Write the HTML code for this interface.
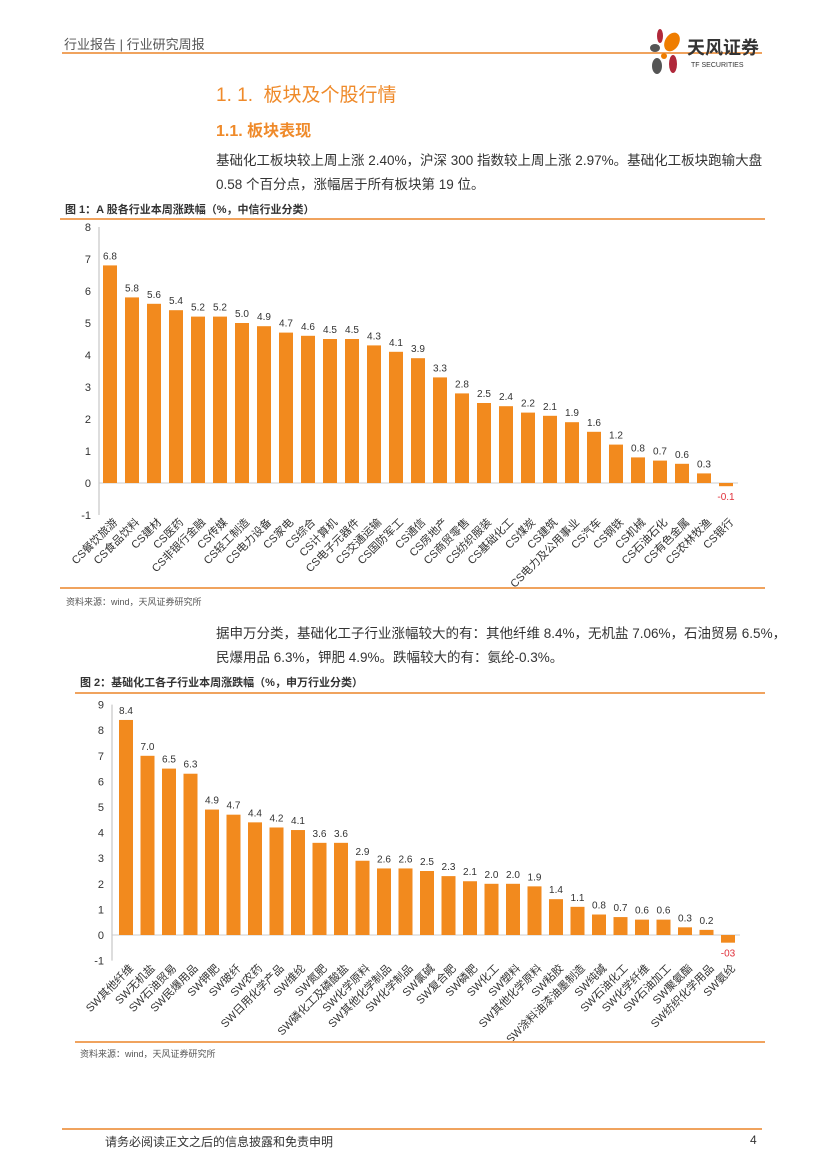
<!DOCTYPE html>
<html><head><meta charset="utf-8"><style>
body{margin:0;width:827px;height:1169px;background:#fff;position:relative;font-family:"Liberation Sans","Noto Sans CJK SC",sans-serif;overflow:hidden}
.a{position:absolute;white-space:nowrap}
.hl{position:absolute;height:2px;background:#f0a35e}
</style></head><body>
<div class="a" style="left:64px;top:34px;font-size:13px;color:#555">行业报告 | 行业研究周报</div>
<div class="hl" style="left:62px;top:52px;width:700px"></div>
<svg class="a" style="left:645px;top:26px" width="130" height="50">
<ellipse cx="15" cy="10" rx="3" ry="7" fill="#b0283a"/><ellipse cx="27" cy="16" rx="7" ry="10" fill="#ef7d00" transform="rotate(30 27 16)"/><ellipse cx="10" cy="22" rx="5" ry="4" fill="#555"/><ellipse cx="12" cy="40" rx="5" ry="8" fill="#555"/><ellipse cx="28" cy="38" rx="4" ry="9" fill="#b0283a"/><circle cx="19" cy="30" r="3" fill="#ef7d00"/>
<text x="42" y="28" font-size="18" font-weight="bold" fill="#333" font-family="Noto Sans CJK SC">天风证券</text>
<text x="46" y="41" font-size="7" fill="#333">TF SECURITIES</text></svg>
<div class="a" style="left:216px;top:80px;font-size:19px;color:#ef8a2a">1. 1.&nbsp; 板块及个股行情</div>
<div class="a" style="left:216px;top:117px;font-size:16px;color:#ef8a2a;font-weight:bold">1.1. 板块表现</div>
<div class="a" style="left:216px;top:149px;font-size:13.5px;color:#333;line-height:24px">基础化工板块较上周上涨 2.40%，沪深 300 指数较上周上涨 2.97%。基础化工板块跑输大盘<br>0.58 个百分点，涨幅居于所有板块第 19 位。</div>
<div class="a" style="left:65px;top:201px;font-size:11px;color:#333;font-weight:bold">图 1：A 股各行业本周涨跌幅（%，中信行业分类）</div>
<div class="hl" style="left:60px;top:218px;width:705px"></div>
<svg id="c1" class="a" style="left:0;top:0" width="827" height="600"></svg>
<div class="hl" style="left:60px;top:587px;width:705px"></div>
<div class="a" style="left:66px;top:595px;font-size:9px;color:#555">资料来源：wind，天风证券研究所</div>
<div class="a" style="left:216px;top:622px;font-size:13.5px;color:#333;line-height:24px">据申万分类，基础化工子行业涨幅较大的有：其他纤维 8.4%，无机盐 7.06%，石油贸易 6.5%，<br>民爆用品 6.3%，钾肥 4.9%。跌幅较大的有：氨纶-0.3%。</div>
<div class="a" style="left:80px;top:674px;font-size:11px;color:#333;font-weight:bold">图 2：基础化工各子行业本周涨跌幅（%，申万行业分类）</div>
<div class="hl" style="left:75px;top:692px;width:690px"></div>
<svg id="c2" class="a" style="left:0;top:0" width="827" height="1060"></svg>
<div class="hl" style="left:75px;top:1041px;width:690px"></div>
<div class="a" style="left:80px;top:1047px;font-size:9px;color:#555">资料来源：wind，天风证券研究所</div>
<div class="hl" style="left:62px;top:1128px;width:700px"></div>
<div class="a" style="left:105px;top:1133px;font-size:12px;color:#333">请务必阅读正文之后的信息披露和免责申明</div>
<div class="a" style="left:750px;top:1133px;font-size:12px;color:#333">4</div>
<script>
const cats1=["CS餐饮旅游","CS食品饮料","CS建材","CS医药","CS非银行金融","CS传媒","CS轻工制造","CS电力设备","CS家电","CS综合","CS计算机","CS电子元器件","CS交通运输","CS国防军工","CS通信","CS房地产","CS商贸零售","CS纺织服装","CS基础化工","CS煤炭","CS建筑","CS电力及公用事业","CS汽车","CS钢铁","CS机械","CS石油石化","CS有色金属","CS农林牧渔","CS银行"];
const vals1=[6.8,5.8,5.6,5.4,5.2,5.2,5.0,4.9,4.7,4.6,4.5,4.5,4.3,4.1,3.9,3.3,2.8,2.5,2.4,2.2,2.1,1.9,1.6,1.2,0.8,0.7,0.6,0.3,-0.1];
const ticks1=[-1,0,1,2,3,4,5,6,7,8];
const cats2=["SW其他纤维","SW无机盐","SW石油贸易","SW民爆用品","SW钾肥","SW玻纤","SW农药","SW日用化学产品","SW维纶","SW氮肥","SW磷化工及磷酸盐","SW化学原料","SW其他化学制品","SW化学制品","SW氯碱","SW复合肥","SW磷肥","SW化工","SW塑料","SW其他化学原料","SW粘胶","SW涂料油漆油墨制造","SW纯碱","SW石油化工","SW化学纤维","SW石油加工","SW聚氨酯","SW纺织化学用品","SW氨纶"];
const vals2=[8.4,7.0,6.5,6.3,4.9,4.7,4.4,4.2,4.1,3.6,3.6,2.9,2.6,2.6,2.5,2.3,2.1,2.0,2.0,1.9,1.4,1.1,0.8,0.7,0.6,0.6,0.3,0.2,-0.3];
const ticks2=[-1,0,1,2,3,4,5,6,7,8,9];
const labels2=["8.4","7.0","6.5","6.3","4.9","4.7","4.4","4.2","4.1","3.6","3.6","2.9","2.6","2.6","2.5","2.3","2.1","2.0","2.0","1.9","1.4","1.1","0.8","0.7","0.6","0.6","0.3","0.2","-03"];
const NS="http://www.w3.org/2000/svg";
function mk(svg,tag,at,txt){const e=document.createElementNS(NS,tag);for(const k in at)e.setAttribute(k,at[k]);if(txt!=null)e.textContent=txt;svg.appendChild(e);return e;}
function draw(id,cats,vals,ticks,labels,o){
 const svg=document.getElementById(id);
 const y=v=>o.y0-v*o.u, x=i=>o.x0+i*o.step;
 let ax=mk(svg,'line',{x1:o.ax,x2:o.ax,y1:y(ticks[ticks.length-1]),y2:y(ticks[0]),stroke:'#bbb'});
 
 let zl=mk(svg,'line',{x1:o.ax,x2:x(cats.length-1)+12,y1:y(0),y2:y(0),stroke:'#ccc'});
 
 ticks.forEach(t=>{const e=mk(svg,'text',{x:o.ax-8,y:y(t)+4,'font-size':11,'text-anchor':'end',fill:'#333'},String(t));
  });
 cats.forEach((c,i)=>{const v=vals[i];
  const b=mk(svg,'rect',{x:x(i)-o.bw/2,y:Math.min(y(v),y(0)),width:o.bw,height:Math.abs(y(v)-y(0)),fill:'#f28a1e'});
  
  const lab=labels?labels[i]:(v<0?'-'+Math.abs(v).toFixed(1):v.toFixed(1));
  const ly=v>=0?y(v)-6:y(v)+14;
  const t=mk(svg,'text',{x:x(i),y:ly,'font-size':10,'text-anchor':'middle',fill:v<0?'#e0303a':'#333'},lab);
  
  const cx=x(i)+8, cy=y(0)+o.lo;
  const ct=mk(svg,'text',{x:cx,y:cy,'font-size':11,'text-anchor':'end',fill:'#333',transform:`rotate(-45 ${cx} ${cy})`},c);
  
 });
}
draw('c1',cats1,vals1,ticks1,null,{y0:483,u:32,x0:110,step:22,bw:14,ax:99,lo:40});
draw('c2',cats2,vals2,ticks2,labels2,{y0:935,u:25.6,x0:126,step:21.5,bw:14,ax:112,lo:34});
</script>
</body></html>
